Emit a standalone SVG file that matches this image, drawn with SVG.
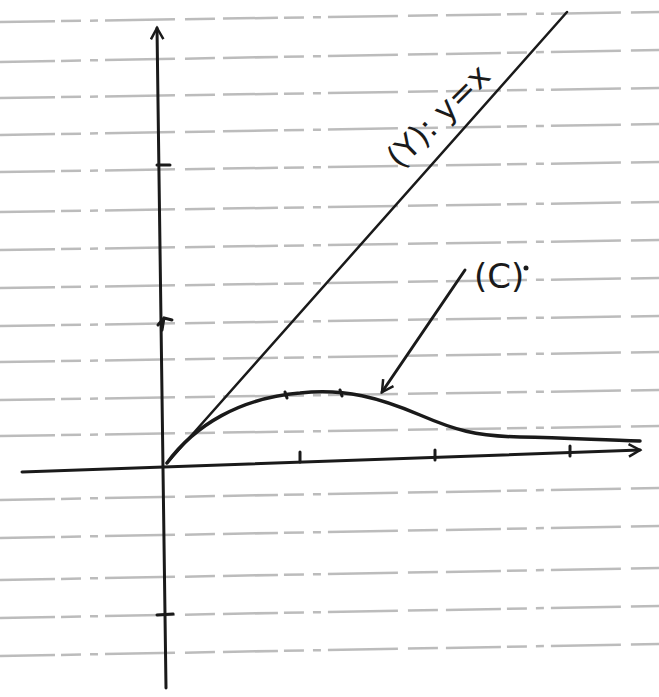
<svg xmlns="http://www.w3.org/2000/svg" width="659" height="697" viewBox="0 0 659 697">
<style>
.rule{stroke:#8f8f8f;stroke-width:2.5;stroke-dasharray:55 6 20 9 8 7 70 10 30 8;fill:none;opacity:.6}
.ax{stroke:#1a1a1a;stroke-width:3;fill:none;stroke-linecap:round}
.crv{stroke:#1a1a1a;stroke-width:3.5;fill:none;stroke-linecap:round}
.tk{stroke:#1a1a1a;stroke-width:3;stroke-linecap:round}
.lbl{font-family:"DejaVu Sans",sans-serif;fill:#1a1a1a}
</style>
<defs>
<marker id="ah" viewBox="0 0 12 12" refX="10" refY="6" markerWidth="5" markerHeight="5" orient="auto-start-reverse" markerUnits="strokeWidth">
<path d="M1,1 L10,6 L1,11" fill="none" stroke="#1a1a1a" stroke-width="2"/>
</marker>
</defs>
<rect width="659" height="697" fill="#ffffff"/>
<g id="paper">
<path class="rule" d="M0,22 L659,12"/>
<path class="rule" d="M0,62 L659,50"/>
<path class="rule" d="M0,98 L659,88"/>
<path class="rule" d="M0,135 L659,124"/>
<path class="rule" d="M0,172 L659,162"/>
<path class="rule" d="M0,212 L659,202"/>
<path class="rule" d="M0,250 L659,240"/>
<path class="rule" d="M0,288 L659,278"/>
<path class="rule" d="M0,326 L659,316"/>
<path class="rule" d="M0,362 L659,352"/>
<path class="rule" d="M0,400 L659,390"/>
<path class="rule" d="M0,436 L659,426"/>
<path class="rule" d="M0,500 L659,488"/>
<path class="rule" d="M0,538 L659,526"/>
<path class="rule" d="M0,580 L659,568"/>
<path class="rule" d="M0,618 L659,606"/>
<path class="rule" d="M0,656 L659,644"/>
</g>
<g id="connectors">
<path id="y-axis" class="ax" d="M166,688 L157,28" marker-end="url(#ah)"/>
<path id="x-axis" class="ax" d="M22,472 L640,450" marker-end="url(#ah)"/>
<path id="line-y-eq-x" class="ax" d="M167,463 L567,12" style="stroke-width:2.5"/>
<path id="pointer" class="ax" d="M465,270 L382,392" marker-end="url(#ah)"/>
</g>
<g id="ticks">
<line class="tk" x1="157" y1="165" x2="170" y2="165"/>
<path class="tk" d="M158,325 L164,318 L172,320 M164,318 L162,330" fill="none"/>
<line class="tk" x1="157" y1="615" x2="173" y2="614"/>
<line class="tk" x1="300" y1="452" x2="300" y2="462"/>
<line class="tk" x1="435" y1="450" x2="435" y2="460"/>
<line class="tk" x1="570" y1="446" x2="570" y2="456"/>
</g>
<g id="curve-C">
<path class="crv" d="M167,463 C195,425 240,398 300,393 C345,388 380,398 420,415 C455,430 475,436 520,437 C570,438 600,440 640,441"/>
<line class="tk" x1="285" y1="392" x2="287" y2="398"/>
<line class="tk" x1="340" y1="390" x2="342" y2="396"/>
</g>
<g id="label-Y">
<text class="lbl" x="0" y="0" font-size="32" transform="translate(400,170) rotate(-45)">(Y): y=x</text>
</g>
<g id="label-C">
<text class="lbl" x="474" y="288" font-size="34">(C)</text>
<circle cx="526" cy="268" r="2.5" fill="#1a1a1a"/>
</g>
</svg>
